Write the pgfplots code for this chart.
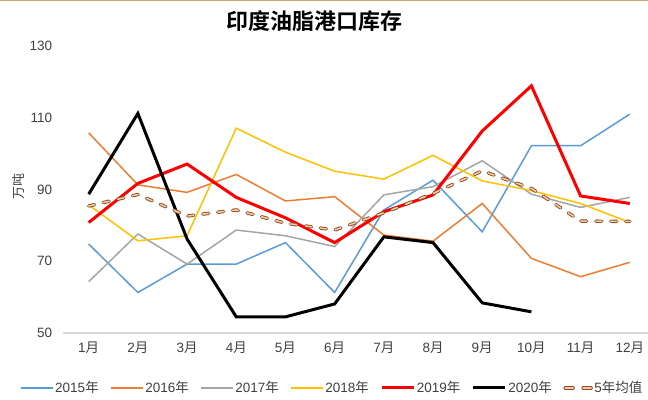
\documentclass[border=0pt]{standalone}
\usepackage{fontspec}
\setmainfont{Liberation Sans}
\newfontfamily\cjk{Noto Sans CJK SC}
\newfontfamily\cjkb{Noto Sans CJK SC Bold}
\usepackage{pgfplots}
\pgfplotsset{compat=1.18}
\pgfplotsset{avglegend/.style={legend image code/.code={\draw[##1, dash pattern=on 8bp off 10bp] (4bp,0bp) -- (30bp,0bp);}}}
\definecolor{c15}{HTML}{5B9BD5}
\definecolor{c16}{HTML}{ED7D31}
\definecolor{c17}{HTML}{A5A5A5}
\definecolor{c18}{HTML}{FFC000}
\definecolor{c19}{HTML}{FF0000}
\definecolor{c20}{HTML}{000000}
\definecolor{cavg}{HTML}{8B4A1E}
\definecolor{cavgin}{HTML}{F3CBA8}
\definecolor{topline}{HTML}{C8A66A}
\definecolor{txt}{HTML}{404040}
\begin{document}
\begin{tikzpicture}
\useasboundingbox (0,0) rectangle (648bp,400bp);
\fill[topline] (0,398.5bp) rectangle (648bp,400bp);
\node[font=\cjkb\fontsize{22bp}{24bp}\selectfont] at (314bp,379bp) {印度油脂港口库存};
\node[rotate=90,font=\cjk\fontsize{13bp}{15bp}\selectfont,text=txt] at (19bp,213bp) {万吨};
\begin{axis}[
  at={(63.4bp,67bp)}, anchor=south west,
  width=584.6bp, height=287bp, scale only axis,
  xmin=0.486, xmax=12.37, ymin=50, ymax=130,
  ytick={50,70,90,110,130},
  xtick={1,...,12},
  xticklabels={{1\cjk 月},{2\cjk 月},{3\cjk 月},{4\cjk 月},{5\cjk 月},{6\cjk 月},{7\cjk 月},{8\cjk 月},{9\cjk 月},{10\cjk 月},{11\cjk 月},{12\cjk 月}},
  separate axis lines,
  axis x line*=bottom, axis y line*=left,
  y axis line style={draw=none},
  x axis line style={draw=black!15, line width=1.2bp, -},
  major tick length=0pt,
  tick label style={font=\fontsize{13.5bp}{15bp}\selectfont, text=txt, inner sep=0pt},
  /pgf/number format/assume math mode=true,
  yticklabel style={anchor=east, xshift=-11bp},
  xticklabel style={anchor=north, yshift=-9bp},
  clip=false,
  legend columns=7,
  legend style={at={(0.4595,-0.1916)}, anchor=center, draw=none, fill=none,
    font=\fontsize{13.5bp}{15bp}\selectfont, text=txt, inner sep=0pt,
    /tikz/every even column/.append style={column sep=10bp},
    nodes={inner sep=1.5bp}},
  legend image code/.code={\draw[#1] (0bp,0bp) -- (32bp,0bp);},
]
\addplot[c15, line width=1.5bp] coordinates {(1,74.8)(2,61.3)(3,69.2)(4,69.2)(5,75.2)(6,61.3)(7,84.3)(8,92.6)(9,78.2)(10,102.2)(11,102.2)(12,111.0)};
\addlegendentry{2015{\cjk 年}}
\addplot[c16, line width=1.5bp] coordinates {(1,105.8)(2,91.3)(3,89.2)(4,94.2)(5,86.8)(6,88.0)(7,77.3)(8,75.6)(9,86.1)(10,70.8)(11,65.7)(12,69.7)};
\addlegendentry{2016{\cjk 年}}
\addplot[c17, line width=1.5bp] coordinates {(1,64.3)(2,77.6)(3,69.2)(4,78.7)(5,77.1)(6,74.1)(7,88.5)(8,90.8)(9,98.0)(10,88.7)(11,85.0)(12,87.8)};
\addlegendentry{2017{\cjk 年}}
\addplot[c18, line width=1.5bp] coordinates {(1,85.7)(2,75.7)(3,77.1)(4,107.1)(5,100.4)(6,95.1)(7,92.9)(8,99.5)(9,92.4)(10,89.7)(11,86.1)(12,80.8)};
\addlegendentry{2018{\cjk 年}}
\addplot[c19, line width=3bp] coordinates {(1,80.8)(2,91.7)(3,97.1)(4,87.8)(5,82.1)(6,75.2)(7,83.8)(8,88.5)(9,106.3)(10,118.9)(11,88.2)(12,86.1)};
\addlegendentry{2019{\cjk 年}}
\addplot[c20, line width=3bp] coordinates {(1,88.7)(2,111.2)(3,76.2)(4,54.5)(5,54.5)(6,58.1)(7,76.8)(8,75.2)(9,58.4)(10,55.9)};
\addlegendentry{2020{\cjk 年}}
\addplot[draw=cavg, line width=0.9bp, double=cavgin, double distance=1.6bp, line cap=round, dash pattern=on 6bp off 9bp, avglegend] coordinates {(1,85.4)(2,88.6)(3,82.6)(4,84.3)(5,80.6)(6,78.7)(7,83.5)(8,88.9)(9,95.2)(10,90.3)(11,81.2)(12,81.1)};
\addlegendentry{5{\cjk 年均值}}
\end{axis}
\end{tikzpicture}
\end{document}
